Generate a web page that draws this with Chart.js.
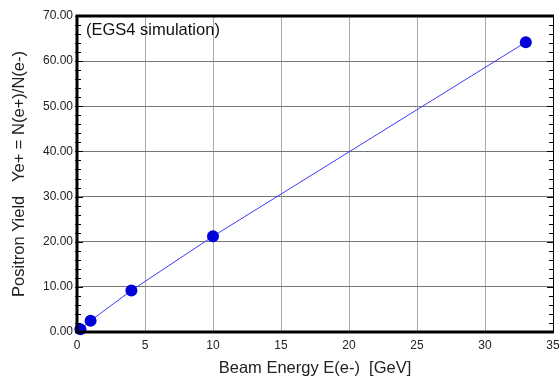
<!DOCTYPE html>
<html>
<head>
<meta charset="utf-8">
<script src="https://cdn.jsdelivr.net/npm/chart.js@4/dist/chart.umd.min.js"></script>
<style>
  html, body { margin: 0; padding: 0; background: #fff; }
  #wrap { width: 560px; height: 378px; position: relative; }
</style>
</head>
<body>
<div id="wrap"><canvas id="c" width="560" height="378"></canvas></div>
<script>
// Beam energy (GeV) and simulated positron yield N(e+)/N(e-)
const beamEnergy = [0.25, 1, 4, 10, 33];
const positronYield = [0.6, 2.5, 9.2, 21.2, 64.2];
const xTicks = [0, 5, 10, 15, 20, 25, 30, 35];
const yTicks = [0, 10, 20, 30, 40, 50, 60, 70];

const FONT = "'Liberation Sans', Arial, Helvetica, sans-serif";

// Frame, minor ticks and the inset note
const framePlugin = {
  id: 'frame',
  afterDraw(chart) {
    const { ctx, chartArea: a, scales } = chart;
    const y = scales.y;
    ctx.save();
    // minor / major tick marks on left and right edges
    ctx.strokeStyle = '#000';
    ctx.lineWidth = 1;
    for (let v = 0; v <= 70; v += 2) {
      const py = Math.round(y.getPixelForValue(v)) + 0.5;
      const len = (v % 10 === 0) ? 6 : 4;
      ctx.beginPath();
      ctx.moveTo(a.left - 2, py); ctx.lineTo(a.left + len, py);
      ctx.moveTo(a.right, py); ctx.lineTo(a.right - len, py);
      ctx.stroke();
    }
    // right edge (thin)
    ctx.beginPath();
    ctx.moveTo(a.right + 0.5, a.top); ctx.lineTo(a.right + 0.5, a.bottom);
    ctx.stroke();
    // left, top, bottom edges (heavy)
    ctx.lineWidth = 3;
    ctx.beginPath();
    ctx.moveTo(a.left, a.bottom + 1.5); ctx.lineTo(a.left, a.top - 1.5);
    ctx.moveTo(a.left - 1.5, a.top); ctx.lineTo(a.right + 1, a.top);
    ctx.moveTo(a.left - 1.5, a.bottom); ctx.lineTo(a.right + 1, a.bottom);
    ctx.stroke();
    // inset note
    ctx.fillStyle = '#111';
    ctx.font = '16.5px ' + FONT;
    ctx.textBaseline = 'middle';
    ctx.textAlign = 'left';
    ctx.fillText('(EGS4 simulation)', a.left + 9, a.top + 14);
    ctx.restore();
  }
};

new Chart(document.getElementById('c'), {
  type: 'scatter',
  data: {
    datasets: [{
      data: beamEnergy.map((e, i) => ({ x: e, y: positronYield[i] })),
      showLine: true,
      clip: false,
      borderColor: '#3a3aff',
      borderWidth: 1,
      pointRadius: 6,
      pointHoverRadius: 6,
      pointBackgroundColor: '#0000d8',
      pointBorderColor: '#0000d8',
      pointBorderWidth: 0
    }]
  },
  options: {
    responsive: false,
    animation: false,
    events: [],
    layout: { padding: { top: 16, right: 7, left: 0, bottom: 0 } },
    plugins: { legend: { display: false }, tooltip: { enabled: false } },
    scales: {
      x: {
        type: 'linear',
        min: 0, max: 35,
        afterBuildTicks(s) { s.ticks = xTicks.map(v => ({ value: v })); },
        afterFit(s) { s.height = 46; s.paddingLeft = 0; s.paddingRight = 0; },
        border: { display: false },
        grid: { color: '#aaaaaa', lineWidth: 1, drawTicks: false },
        ticks: {
          padding: 6,
          color: '#222',
          font: { family: FONT, size: 12 },
          maxRotation: 0,
          callback: v => String(v)
        },
        title: {
          display: true,
          text: 'Beam Energy E(e-)  [GeV]',
          color: '#222',
          font: { family: FONT, size: 16.5 },
          padding: { top: 3, bottom: 0 }
        }
      },
      y: {
        type: 'linear',
        min: 0, max: 70,
        afterBuildTicks(s) { s.ticks = yTicks.map(v => ({ value: v })); },
        afterFit(s) { s.width = 77; s.paddingTop = 0; s.paddingBottom = 0; },
        border: { display: false },
        grid: { color: '#777777', lineWidth: 1, drawTicks: false },
        ticks: {
          padding: 4,
          color: '#222',
          font: { family: FONT, size: 12 },
          callback: v => Number(v).toFixed(2)
        },
        title: {
          display: true,
          text: 'Positron Yield   Ye+ = N(e+)/N(e-)',
          color: '#222',
          font: { family: FONT, size: 16.5 },
          padding: { top: 10, bottom: 4 }
        }
      }
    }
  },
  plugins: [framePlugin]
});
</script>
</body>
</html>
